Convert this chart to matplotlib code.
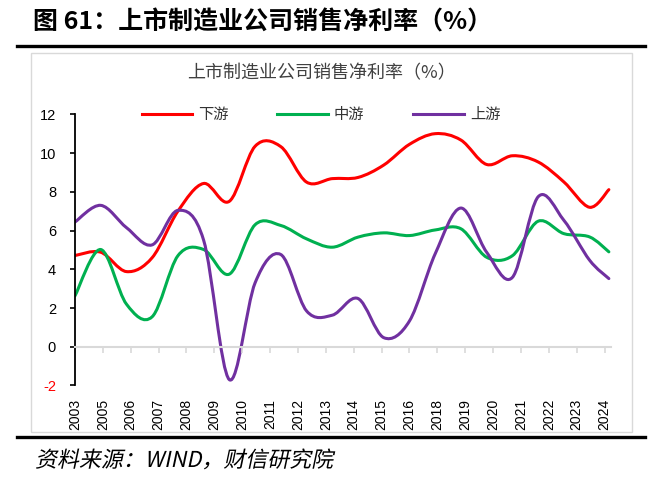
import numpy as np
import matplotlib
matplotlib.use("Agg")
import matplotlib.pyplot as plt
from matplotlib.path import Path
from matplotlib.patches import PathPatch, Rectangle
from matplotlib.lines import Line2D
from matplotlib.textpath import TextPath
from matplotlib.font_manager import FontProperties
from matplotlib.transforms import Affine2D, IdentityTransform

plt.rcParams['font.family'] = ['Noto Sans CJK SC', 'DejaVu Sans']
plt.rcParams['axes.unicode_minus'] = False

# ---- data ----
dates = ['2003-12', '2004-12', '2005-12', '2006-12', '2007-12', '2008-12', '2009-12',
         '2010-12', '2011-12', '2012-12', '2013-12', '2014-12', '2015-12', '2016-12',
         '2017-12', '2018-12', '2019-12', '2020-12', '2021-12', '2022-12', '2023-12',
         '2024-09']
downstream = [4.71, 4.88, 3.88, 4.6, 7.0, 8.43, 7.51, 10.35, 10.33, 8.5, 8.68, 8.74,
              9.38, 10.45, 11.0, 10.67, 9.41, 9.86, 9.54, 8.51, 7.2, 8.11]
midstream = [2.63, 5.02, 2.2, 1.55, 4.7, 5.02, 3.75, 6.3, 6.26, 5.57, 5.14, 5.66,
             5.88, 5.74, 6.03, 6.09, 4.62, 4.7, 6.48, 5.84, 5.67, 4.9]
upstream = [6.44, 7.3, 6.15, 5.26, 7.04, 5.5, -1.7, 3.3, 4.76, 1.85, 1.63, 2.49,
            0.47, 1.33, 4.8, 7.16, 4.88, 3.58, 7.74, 6.53, 4.47, 3.52]
series_names = ['下游', '中游', '上游']
series_colors = ['#FF0000', '#00B050', '#7030A0']
tick_labels = ['2003', '2005', '2006', '2007', '2008', '2009', '2010', '2011', '2012',
               '2013', '2014', '2015', '2016', '2018', '2019', '2020', '2021', '2022',
               '2023', '2024']
tick_step_months = 13

def month_index(d):
    y, m = d.split('-')
    return (int(y) - 2003) * 12 + (int(m) - 12)

x = np.array([month_index(d) for d in dates], dtype=float)


def smooth_path(xs, ys):
    pts = np.column_stack([xs, ys]).astype(float)
    n = len(pts)
    verts = [pts[0]]
    codes = [Path.MOVETO]
    for i in range(n - 1):
        p0 = pts[i - 1] if i > 0 else pts[i]
        p1 = pts[i]
        p2 = pts[i + 1]
        p3 = pts[i + 2] if i + 2 < n else pts[i + 1]
        c1 = p1 + (p2 - p0) / 6.0
        c2 = p2 - (p3 - p1) / 6.0
        verts += [c1, c2, p2]
        codes += [Path.CURVE4] * 3
    return Path(verts, codes)


W, H = 658, 486
DPI = 100
fig = plt.figure(figsize=(W / DPI, H / DPI), dpi=DPI)
ax = fig.add_axes([75 / W, 1 - 385.5 / H, (611 - 75) / W, (385.5 - 114.3) / H])

for ys, c in zip([downstream, midstream, upstream], series_colors):
    ax.add_patch(PathPatch(smooth_path(x, ys), fill=False, edgecolor=c, lw=2.2,
                           capstyle='round', joinstyle='round'))

ax.set_xlim(0, 250)
ax.set_ylim(-2, 12)
ax.set_yticks(np.arange(-2, 13, 2))
ax.set_xticks([tick_step_months * k for k in range(len(tick_labels))])
ax.set_xticklabels(tick_labels)

for s in ['top', 'right']:
    ax.spines[s].set_visible(False)
ax.spines['left'].set_color('black')
ax.spines['left'].set_linewidth(1.3)
ax.spines['bottom'].set_position(('data', 0))
ax.spines['bottom'].set_color('#D9D9D9')
ax.spines['bottom'].set_linewidth(1.5)
ax.tick_params(axis='x', direction='out', length=4, width=1.2, color='#D9D9D9',
               pad=33.5, labelcolor='black', labelrotation=90, labelsize=10)
ax.tick_params(axis='y', direction='out', length=3.6, width=1.2, color='black', pad=10,
               labelsize=10.5)
for lab in ax.get_xticklabels() + ax.get_yticklabels():
    lab.set_family('Liberation Sans')
ax.get_yticklabels()[0].set_color('red')
ax.patch.set_alpha(0)

# legend
handles = [Line2D([], [], color=c, lw=2.2) for c in series_colors]
fig.legend(handles, series_names, loc='center', bbox_to_anchor=(321 / W, 1 - 115 / H),
           bbox_transform=fig.transFigure, ncol=3, frameon=False, handlelength=3.3,
           columnspacing=3.2, handletextpad=0.4,
           prop={'family': ['Noto Sans CJK SC'], 'size': 11}, labelcolor='#333333')

# inner title
fig.text(321 / W, 1 - 73 / H, '上市制造业公司销售净利率（%）', ha='center', va='center',
         fontsize=13, color='#404040')

# chart frame
fig.add_artist(Rectangle((31 / W, 1 - 432 / H), (632 - 31) / W, (432 - 53) / H,
                         transform=fig.transFigure, fill=False, edgecolor='#D9D9D9', lw=1))

# heading and rules
fig.text(33 / W, 1 - 22 / H, '图 61：上市制造业公司销售净利率（%）', ha='left', va='center',
         fontsize=18, fontweight='bold')
fig.add_artist(Line2D([17 / W, 645 / W], [1 - 46 / H] * 2, transform=fig.transFigure,
                      color='black', lw=2.4))
fig.add_artist(Line2D([17 / W, 645 / W], [1 - 437 / H] * 2, transform=fig.transFigure,
                      color='black', lw=2.4))

# source note, slanted like the italic original
src_fp = FontProperties(family='Noto Sans CJK SC', size=15.8)
src_path = TextPath((0, 0), '资料来源：WIND，财信研究院', prop=src_fp)
src_tf = Affine2D().skew_deg(12, 0).scale(DPI / 72.0).translate(35, H - 467)
fig.add_artist(PathPatch(src_tf.transform_path(src_path), transform=IdentityTransform(),
                         facecolor='black', edgecolor='none'))

fig.savefig('out.png', dpi=DPI)
